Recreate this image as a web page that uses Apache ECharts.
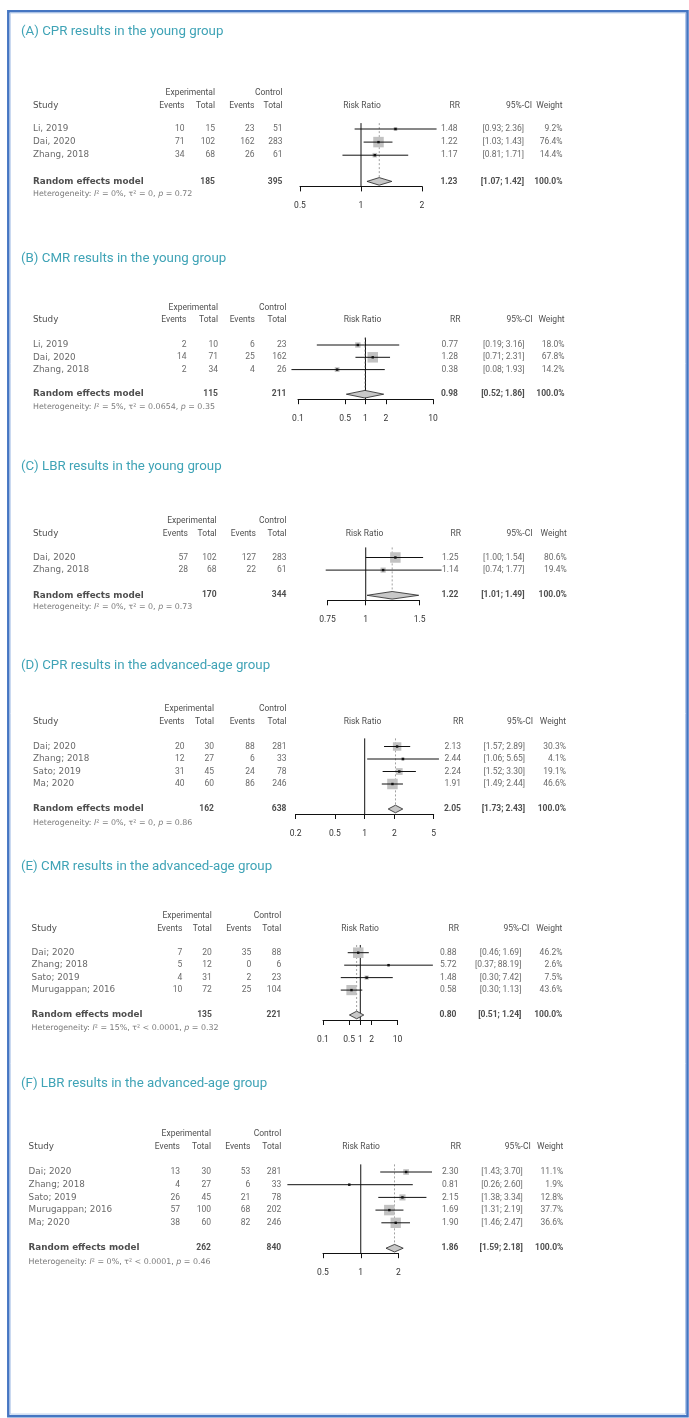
<!DOCTYPE html>
<html><head><meta charset="utf-8">
<script src="https://cdn.jsdelivr.net/npm/echarts@6/dist/echarts.min.js"></script>
<style>html,body{margin:0;padding:0;background:#fff}#c{width:689px;height:1418px}</style>
</head><body><div id="c"></div>
<script>
// ---------- DATA ----------
// (A) CPR young
const titleA = '(A) CPR results in the young group';
const studiesA = ['Li, 2019', 'Dai, 2020', 'Zhang, 2018'];
const expEventsA = [10, 71, 34];
const expTotalA = [15, 102, 68];
const ctlEventsA = [23, 162, 26];
const ctlTotalA = [51, 283, 61];
const rrA = [1.48, 1.22, 1.17];
const loA = [0.93, 1.03, 0.81];
const hiA = [2.36, 1.43, 1.71];
const weightA = [9.2, 76.4, 14.4];
const sumTotalsA = [185, 395];
const sumRRA = [1.23, 1.07, 1.42];
const hetA = ['0%', '=', '0', '0.72'];
const ticksA = [0.5, 1, 2];

// (B) CMR young
const titleB = '(B) CMR results in the young group';
const studiesB = ['Li, 2019', 'Dai, 2020', 'Zhang, 2018'];
const expEventsB = [2, 14, 2];
const expTotalB = [10, 71, 34];
const ctlEventsB = [6, 25, 4];
const ctlTotalB = [23, 162, 26];
const rrB = [0.77, 1.28, 0.38];
const loB = [0.19, 0.71, 0.08];
const hiB = [3.16, 2.31, 1.93];
const weightB = [18.0, 67.8, 14.2];
const sumTotalsB = [115, 211];
const sumRRB = [0.98, 0.52, 1.86];
const hetB = ['5%', '=', '0.0654', '0.35'];
const ticksB = [0.1, 0.5, 1, 2, 10];

// (C) LBR young
const titleC = '(C) LBR results in the young group';
const studiesC = ['Dai, 2020', 'Zhang, 2018'];
const expEventsC = [57, 28];
const expTotalC = [102, 68];
const ctlEventsC = [127, 22];
const ctlTotalC = [283, 61];
const rrC = [1.25, 1.14];
const loC = [1.00, 0.74];
const hiC = [1.54, 1.77];
const weightC = [80.6, 19.4];
const sumTotalsC = [170, 344];
const sumRRC = [1.22, 1.01, 1.49];
const hetC = ['0%', '=', '0', '0.73'];
const ticksC = [0.75, 1, 1.5];

// (D) CPR advanced-age
const titleD = '(D) CPR results in the advanced-age group';
const studiesD = ['Dai; 2020', 'Zhang; 2018', 'Sato; 2019', 'Ma; 2020'];
const expEventsD = [20, 12, 31, 40];
const expTotalD = [30, 27, 45, 60];
const ctlEventsD = [88, 6, 24, 86];
const ctlTotalD = [281, 33, 78, 246];
const rrD = [2.13, 2.44, 2.24, 1.91];
const loD = [1.57, 1.06, 1.52, 1.49];
const hiD = [2.89, 5.65, 3.30, 2.44];
const weightD = [30.3, 4.1, 19.1, 46.6];
const sumTotalsD = [162, 638];
const sumRRD = [2.05, 1.73, 2.43];
const hetD = ['0%', '=', '0', '0.86'];
const ticksD = [0.2, 0.5, 1, 2, 5];

// (E) CMR advanced-age
const titleE = '(E) CMR results in the advanced-age group';
const studiesE = ['Dai; 2020', 'Zhang; 2018', 'Sato; 2019', 'Murugappan; 2016'];
const expEventsE = [7, 5, 4, 10];
const expTotalE = [20, 12, 31, 72];
const ctlEventsE = [35, 0, 2, 25];
const ctlTotalE = [88, 6, 23, 104];
const rrE = [0.88, 5.72, 1.48, 0.58];
const loE = [0.46, 0.37, 0.30, 0.30];
const hiE = [1.69, 88.19, 7.42, 1.13];
const weightE = [46.2, 2.6, 7.5, 43.6];
const sumTotalsE = [135, 221];
const sumRRE = [0.80, 0.51, 1.24];
const hetE = ['15%', '<', '0.0001', '0.32'];
const ticksE = [0.1, 0.5, 1, 2, 10];

// (F) LBR advanced-age
const titleF = '(F) LBR results in the advanced-age group';
const studiesF = ['Dai; 2020', 'Zhang; 2018', 'Sato; 2019', 'Murugappan; 2016', 'Ma; 2020'];
const expEventsF = [13, 4, 26, 57, 38];
const expTotalF = [30, 27, 45, 100, 60];
const ctlEventsF = [53, 6, 21, 68, 82];
const ctlTotalF = [281, 33, 78, 202, 246];
const rrF = [2.30, 0.81, 2.15, 1.69, 1.90];
const loF = [1.43, 0.26, 1.38, 1.31, 1.46];
const hiF = [3.70, 2.60, 3.34, 2.19, 2.47];
const weightF = [11.1, 1.9, 12.8, 37.7, 36.6];
const sumTotalsF = [262, 840];
const sumRRF = [1.86, 1.59, 2.18];
const hetF = ['0%', '<', '0.0001', '0.46'];
const ticksF = [0.5, 1, 2];

const PANELS = [
  {title: titleA, st: studiesA, ee: expEventsA, et: expTotalA, ce: ctlEventsA, ct: ctlTotalA, rr: rrA, lo: loA, hi: hiA, w: weightA, tot: sumTotalsA, sum: sumRRA, het: hetA, ticks: ticksA},
  {title: titleB, st: studiesB, ee: expEventsB, et: expTotalB, ce: ctlEventsB, ct: ctlTotalB, rr: rrB, lo: loB, hi: hiB, w: weightB, tot: sumTotalsB, sum: sumRRB, het: hetB, ticks: ticksB},
  {title: titleC, st: studiesC, ee: expEventsC, et: expTotalC, ce: ctlEventsC, ct: ctlTotalC, rr: rrC, lo: loC, hi: hiC, w: weightC, tot: sumTotalsC, sum: sumRRC, het: hetC, ticks: ticksC},
  {title: titleD, st: studiesD, ee: expEventsD, et: expTotalD, ce: ctlEventsD, ct: ctlTotalD, rr: rrD, lo: loD, hi: hiD, w: weightD, tot: sumTotalsD, sum: sumRRD, het: hetD, ticks: ticksD},
  {title: titleE, st: studiesE, ee: expEventsE, et: expTotalE, ce: ctlEventsE, ct: ctlTotalE, rr: rrE, lo: loE, hi: hiE, w: weightE, tot: sumTotalsE, sum: sumRRE, het: hetE, ticks: ticksE},
  {title: titleF, st: studiesF, ee: expEventsF, et: expTotalF, ce: ctlEventsF, ct: ctlTotalF, rr: rrF, lo: loF, hi: hiF, w: weightF, tot: sumTotalsF, sum: sumRRF, het: hetF, ticks: ticksF}
];

// ---------- LAYOUT (pixels / row units) ----------
const LAYOUT = [
  {titleY: 34, y0: 129, unit: 13.1, hdr: -1.75, het: 1.97, refTop: -0.45, axL: 300, axR: 422, rrHdr: 362,
   col: [33, 184.5, 215, 254.5, 282.5, 460, 532, 562.5]},
  {titleY: 261, y0: 345, unit: 12.3, hdr: -2.05, het: 2.05, refTop: -0.6, axL: 298, axR: 433, rrHdr: 362.5,
   col: [33, 186.5, 218, 254.8, 286.5, 460.5, 532.5, 564.6]},
  {titleY: 469, y0: 557.5, unit: 12.6, hdr: -1.87, het: 1.95, refTop: -0.8, axL: 327.5, axR: 419.6, rrHdr: 364.5,
   col: [33, 188, 216.6, 256, 286.5, 461, 532.5, 566.8]},
  {titleY: 667.5, y0: 746.5, unit: 12.5, hdr: -1.98, het: 2.15, refTop: -0.65, axL: 295.7, axR: 433.7, rrHdr: 362.5,
   col: [33, 184.5, 214, 254.8, 286.5, 463.5, 533, 566]},
  {titleY: 869, y0: 952.7, unit: 12.46, hdr: -1.95, het: 2.05, refTop: -0.62, axL: 323, axR: 397.6, rrHdr: 360,
   col: [31.6, 182.3, 211.8, 251.3, 281.2, 459, 529.4, 562.4]},
  {titleY: 1085.5, y0: 1172, unit: 12.7, hdr: -1.99, het: 2.06, refTop: -0.6, axL: 323, axR: 398.5, rrHdr: 361,
   col: [28.6, 180, 211, 250.4, 281.2, 461, 530.8, 563.3]}
];

const NUMF = 'Roboto, "Liberation Sans", sans-serif';
const WIDEF = '"DejaVu Sans", sans-serif';
const S_HDR = {fontFamily: NUMF, fontSize: 8.5, color: '#222'};
const S_NUM = {fontFamily: NUMF, fontSize: 8.5, color: '#444'};
const S_NUMB = {fontFamily: NUMF, fontSize: 8.5, color: '#222', fontWeight: 'bold'};
const S_NAME = {fontFamily: WIDEF, fontSize: 8.8, color: '#444'};
const S_NAMEB = {fontFamily: WIDEF, fontSize: 8.8, color: '#222', fontWeight: 'bold'};
const S_STUDY = {fontFamily: WIDEF, fontSize: 8.8, color: '#222'};
const S_HET = {fontFamily: WIDEF, fontSize: 7.9, color: '#555',
  rich: {
    n: {fontFamily: WIDEF, fontSize: 7.9, color: '#555'},
    it: {fontFamily: WIDEF, fontSize: 7.9, color: '#555', fontStyle: 'italic'}
  }};

function item(x, y, text, align, style) {
  const pos = align === 'right' ? 'left' : (align === 'left' ? 'right' : 'inside');
  return {value: [x, y], txt: text, label: Object.assign({show: true, position: pos, distance: 0}, style)};
}
const f2 = v => v.toFixed(2);

const option = {
  animation: false,
  backgroundColor: '#ffffff',
  title: [], grid: [], xAxis: [], yAxis: [], series: [],
  graphic: [
    {type: 'rect', silent: true, z: 100, shape: {x: 8.3, y: 11.2, width: 679.2, height: 1405.1},
     style: {fill: 'none', stroke: '#4576c2', lineWidth: 2.5}},
    {type: 'rect', silent: true, z: 100, shape: {x: 10.2, y: 12.9, width: 675.3, height: 1401.2},
     style: {fill: 'none', stroke: '#b3c9ea', lineWidth: 1}}
  ]
};

PANELS.forEach((P, k) => {
  const L = LAYOUT[k];
  const n = P.st.length;
  const yMin = L.hdr - 1.7;
  const yMax = n + 1 + 5 / L.unit;
  const top = L.y0 + yMin * L.unit;
  const height = (yMax - yMin) * L.unit;
  const fx = 2 * k, tx = 2 * k + 1;

  option.title.push({text: P.title, left: 21, top: L.titleY - 8.5, padding: 0,
    textStyle: {fontSize: 13.3, fontWeight: 'normal', color: '#3fa3b6', fontFamily: NUMF}});

  option.grid.push({left: L.axL, width: L.axR - L.axL, top: top, height: height, outerBoundsMode: 'none'});
  option.grid.push({left: 0, width: 689, top: top, height: height, outerBoundsMode: 'none'});

  option.xAxis.push({
    gridIndex: fx, type: 'log', logBase: 10, min: P.ticks[0], max: P.ticks[P.ticks.length - 1],
    position: 'bottom',
    axisLine: {show: true, onZero: false, lineStyle: {color: '#111', width: 1}},
    axisTick: {show: true, customValues: P.ticks, length: 5, lineStyle: {color: '#111', width: 1}},
    axisLabel: {show: true, customValues: P.ticks, margin: 15, fontSize: 8.5, fontFamily: NUMF, color: '#333',
      formatter: v => String(+(+v).toPrecision(4))},
    splitLine: {show: false}, minorTick: {show: false}
  });
  option.xAxis.push({gridIndex: tx, type: 'value', min: 0, max: 689, show: false});
  option.yAxis.push({gridIndex: fx, type: 'value', inverse: true, min: yMin, max: yMax, show: false});
  option.yAxis.push({gridIndex: tx, type: 'value', inverse: true, min: yMin, max: yMax, show: false});

  // reference line at RR = 1
  option.series.push({type: 'line', xAxisIndex: fx, yAxisIndex: fx, silent: true, symbol: 'none', z: 2,
    data: [[1, L.refTop], [1, yMax]], lineStyle: {color: '#111', width: 1}});
  // dotted line at pooled estimate
  option.series.push({type: 'line', xAxisIndex: fx, yAxisIndex: fx, silent: true, symbol: 'none', z: 2,
    data: [[P.sum[0], L.refTop], [P.sum[0], n + 1]], lineStyle: {color: '#8a8a8a', width: 0.8, type: [2, 2]}});
  // study estimates
  const wmax = Math.max(...P.w);
  option.series.push({
    type: 'custom', xAxisIndex: fx, yAxisIndex: fx, silent: true, z: 3, clip: false,
    encode: {x: 0, y: 1},
    data: P.rr.map((v, i) => [v, i, P.lo[i], P.hi[i], P.w[i]]),
    renderItem: (params, api) => {
      const c = api.coord([api.value(0), api.value(1)]);
      const cl = api.coord([api.value(2), api.value(1)]);
      const ch = api.coord([api.value(3), api.value(1)]);
      const s = 10.5 * Math.sqrt(api.value(4) / wmax);
      return {type: 'group', children: [
        {type: 'rect', shape: {x: c[0] - s / 2, y: c[1] - s / 2, width: s, height: s}, style: {fill: '#c2c2c2'}},
        {type: 'line', shape: {x1: cl[0], y1: c[1], x2: ch[0], y2: c[1]}, style: {stroke: '#111', lineWidth: 1}},
        {type: 'rect', shape: {x: c[0] - 1.2, y: c[1] - 1.2, width: 2.4, height: 2.4}, style: {fill: '#111'}}
      ]};
    }
  });
  // pooled diamond
  option.series.push({
    type: 'custom', xAxisIndex: fx, yAxisIndex: fx, silent: true, z: 4, clip: false,
    encode: {x: 0, y: 1},
    data: [[P.sum[0], n + 1, P.sum[1], P.sum[2]]],
    renderItem: (params, api) => {
      const c = api.coord([api.value(0), api.value(1)]);
      const l = api.coord([api.value(2), api.value(1)]);
      const h = api.coord([api.value(3), api.value(1)]);
      const d = 3.8;
      return {type: 'polygon', shape: {points: [[l[0], c[1]], [c[0], c[1] - d], [h[0], c[1]], [c[0], c[1] + d]]},
        style: {fill: '#c8c8c8', stroke: '#222', lineWidth: 0.8}};
    }
  });

  // table text
  const C = L.col;
  const rrV = C[5] - 2.5, ciV = C[6] - 8;
  const T = [];
  T.push(item(C[2], L.hdr - 1, 'Experimental', 'right', S_HDR));
  T.push(item(C[4], L.hdr - 1, 'Control', 'right', S_HDR));
  T.push(item(C[0], L.hdr, 'Study', 'left', S_STUDY));
  T.push(item(C[1], L.hdr, 'Events', 'right', S_HDR));
  T.push(item(C[2], L.hdr, 'Total', 'right', S_HDR));
  T.push(item(C[3], L.hdr, 'Events', 'right', S_HDR));
  T.push(item(C[4], L.hdr, 'Total', 'right', S_HDR));
  T.push(item(L.rrHdr, L.hdr, 'Risk Ratio', 'center', S_HDR));
  T.push(item(C[5], L.hdr, 'RR', 'right', S_HDR));
  T.push(item(C[6], L.hdr, '95%-CI', 'right', S_HDR));
  T.push(item(C[7], L.hdr, 'Weight', 'right', S_HDR));
  P.st.forEach((name, i) => {
    T.push(item(C[0], i, name, 'left', S_NAME));
    T.push(item(C[1], i, String(P.ee[i]), 'right', S_NUM));
    T.push(item(C[2], i, String(P.et[i]), 'right', S_NUM));
    T.push(item(C[3], i, String(P.ce[i]), 'right', S_NUM));
    T.push(item(C[4], i, String(P.ct[i]), 'right', S_NUM));
    T.push(item(rrV, i, f2(P.rr[i]), 'right', S_NUM));
    T.push(item(ciV, i, '[' + f2(P.lo[i]) + '; ' + f2(P.hi[i]) + ']', 'right', S_NUM));
    T.push(item(C[7], i, P.w[i].toFixed(1) + '%', 'right', S_NUM));
  });
  T.push(item(C[0], n + 1, 'Random effects model', 'left', S_NAMEB));
  T.push(item(C[2], n + 1, String(P.tot[0]), 'right', S_NUMB));
  T.push(item(C[4], n + 1, String(P.tot[1]), 'right', S_NUMB));
  T.push(item(rrV, n + 1, f2(P.sum[0]), 'right', S_NUMB));
  T.push(item(ciV, n + 1, '[' + f2(P.sum[1]) + '; ' + f2(P.sum[2]) + ']', 'right', S_NUMB));
  T.push(item(C[7], n + 1, '100.0%', 'right', S_NUMB));
  T.push(item(C[0], n + L.het,
    '{n|Heterogeneity: }{it|I}{n|\u00b2 = ' + P.het[0] + ', \u03c4\u00b2 ' + P.het[1] + ' ' + P.het[2] + ', }{it|p}{n| = ' + P.het[3] + '}',
    'left', S_HET));

  option.series.push({
    type: 'scatter', xAxisIndex: tx, yAxisIndex: tx, silent: true, symbolSize: 0, z: 5, clip: false,
    itemStyle: {color: 'rgba(0,0,0,0)'},
    label: {show: true, formatter: p => p.data.txt},
    labelLayout: {hideOverlap: false},
    data: T
  });
});

const chart = echarts.init(document.getElementById('c'), null, {renderer: 'canvas', width: 689, height: 1418});
chart.setOption(option);
</script>
</body></html>
